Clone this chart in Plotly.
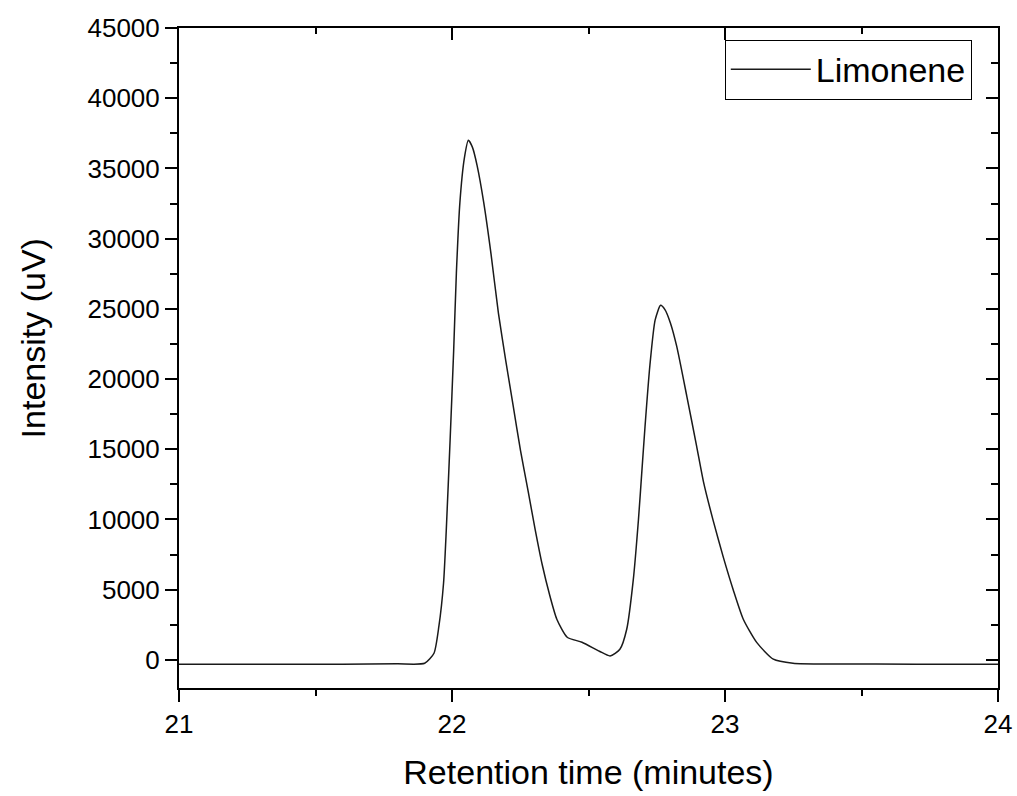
import plotly.graph_objects as go

# Retention time (minutes) and intensity (uV)
time_min = [21.00, 21.30, 21.60, 21.80, 21.90, 21.934, 21.952, 21.969, 21.979, 21.993,
            22.006, 22.016, 22.029, 22.045, 22.060, 22.075, 22.092, 22.116, 22.143, 22.170,
            22.197, 22.224, 22.251, 22.279, 22.305, 22.331, 22.357, 22.384, 22.422,
            22.476, 22.540, 22.579, 22.615, 22.640, 22.664, 22.683, 22.695, 22.707,
            22.725, 22.744, 22.764, 22.780, 22.800, 22.823, 22.860, 22.896, 22.921, 22.957,
            22.994, 23.030, 23.067, 23.116, 23.177, 23.249, 23.400, 23.700, 24.00]
intensity_uv = [-300, -310, -300, -280, -240, 477, 2400, 5460, 9230, 15630,
                21970, 27540, 32600, 35700, 37000, 36500, 35200, 32600, 28900, 24700,
                21300, 18100, 14900, 12000, 9250, 6740, 4675, 2900, 1615,
                1260, 620, 285, 760, 2185, 5700, 10000, 13300, 16600,
                21000, 24200, 25250, 24950, 24000, 22340, 18790, 15230, 12700, 9900,
                7300, 5000, 2900, 1250, 50, -235, -290, -300, -300]

series_name = "Limonene"
x_ticks = [21, 22, 23, 24]
y_ticks = [0, 5000, 10000, 15000, 20000, 25000, 30000, 35000, 40000, 45000]
x_range = [21, 24]
y_range = [-2000, 45000]

FONT = "Liberation Sans, Arial, sans-serif"

fig = go.Figure()
fig.add_trace(go.Scatter(
    x=time_min, y=intensity_uv, mode="lines", name=series_name,
    line=dict(color="#1a1a1a", width=1.5, shape="spline", smoothing=0.6),
))
# empty trace to create mirrored frame axes (top/right)
fig.add_trace(go.Scatter(x=[None], y=[None], xaxis="x2", yaxis="y2",
                         showlegend=False, hoverinfo="skip"))

axis_common = dict(showgrid=False, zeroline=False, showline=True,
                   linecolor="black", linewidth=2, tickcolor="black",
                   tickwidth=2, ticklen=12, automargin=False)

fig.update_layout(
    width=1017, height=796,
    margin=dict(l=179, r=19, t=28, b=108, autoexpand=False),
    paper_bgcolor="white", plot_bgcolor="white",
    font=dict(family=FONT, color="black", size=26),
    showlegend=True,
    legend=dict(x=0.968, y=0.937, xanchor="right", yanchor="middle",
                bordercolor="black", borderwidth=1, bgcolor="white",
                font=dict(size=34, family=FONT), itemwidth=80,
                tracegroupgap=0),
    xaxis=dict(range=x_range, tickvals=x_ticks, ticks="outside",
               tickformat="d",
               minor=dict(dtick=0.5, tick0=21, ticks="outside", ticklen=6,
                          tickwidth=2, tickcolor="black"),
               title=dict(text="Retention time (minutes)",
                          font=dict(size=34, family=FONT), standoff=22),
               tickfont=dict(size=26, family=FONT),
               **axis_common),
    yaxis=dict(range=y_range, tickvals=y_ticks, ticks="outside",
               tickformat="d",
               minor=dict(dtick=2500, tick0=0, ticks="outside", ticklen=7,
                          tickwidth=2, tickcolor="black"),
               tickfont=dict(size=26, family=FONT),
               **axis_common),
    xaxis2=dict(range=x_range, overlaying="x", side="top", anchor="y2",
                tickvals=x_ticks, ticks="inside", showticklabels=False,
                minor=dict(dtick=0.5, tick0=21, ticks="inside", ticklen=6,
                           tickwidth=2, tickcolor="black"),
                **axis_common),
    yaxis2=dict(range=y_range, overlaying="y", side="right", anchor="x2",
                tickvals=y_ticks, ticks="inside", showticklabels=False,
                minor=dict(dtick=2500, tick0=0, ticks="inside", ticklen=7,
                           tickwidth=2, tickcolor="black"),
                **axis_common),
    annotations=[dict(text="Intensity (uV)", textangle=-90, showarrow=False,
                      xref="paper", yref="paper", x=-0.178, y=0.530,
                      xanchor="center", yanchor="middle",
                      font=dict(size=34, family=FONT, color="black"))],
)

fig.write_html("out.html")
